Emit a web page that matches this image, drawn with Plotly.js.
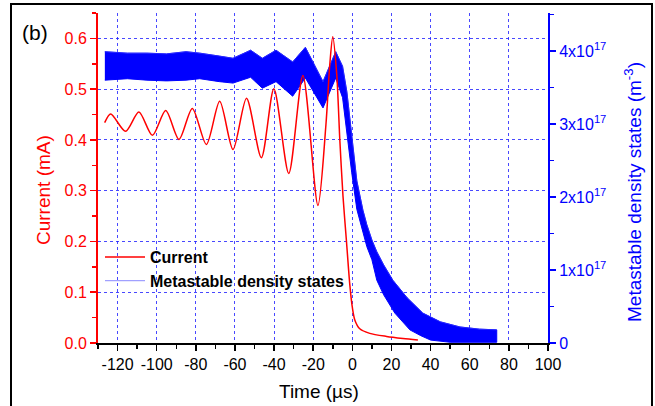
<!DOCTYPE html>
<html>
<head>
<meta charset="utf-8">
<script src="https://cdn.plot.ly/plotly-3.0.1.min.js"></script>
<style>html,body{margin:0;padding:0;background:#fff;}#chart{width:655px;height:406px;}</style>
</head>
<body>
<div id="chart"></div>
<script>
// Current (mA) vs time (µs)
const timeCurrent = [-126.6, -123.5, -115.9, -109.1, -102.2, -95.4, -88.6, -81.8, -74.6, -67.8, -61.0, -54.1, -46.5, -40.1, -32.5, -25.3, -17.6, -13.5, -11.5, -10.0, -8.0, -6.4, -4.8, -3.0, -1.3, 0.0, 1.3, 3.8, 8.9, 17.5, 25.9, 33.5];
const currentMA   = [0.434, 0.451, 0.417, 0.455, 0.409, 0.458, 0.401, 0.462, 0.391, 0.476, 0.381, 0.482, 0.365, 0.501, 0.334, 0.527, 0.271, 0.43, 0.55, 0.603, 0.53, 0.40, 0.29, 0.20, 0.115, 0.07, 0.045, 0.028, 0.019, 0.013, 0.009, 0.006];

// Metastable density states (units of 1e17 m^-3): upper and lower edges of the noisy trace
const timeMetaUpper = [-126.5, -115, -105, -95, -85, -78, -68, -61, -52, -46, -39, -30.5, -24, -15, -8.5, -5, -2.8, -0.3, 2.3, 5.4, 7.4, 10, 12.5, 16, 20.7, 28, 36, 45, 55, 65, 73.8];
const metaUpper     = [3.99, 3.97, 3.97, 3.96, 3.99, 3.97, 3.93, 3.90, 4.01, 3.90, 4.01, 3.85, 4.05, 3.58, 3.99, 3.79, 3.44, 2.85, 2.22, 1.82, 1.62, 1.41, 1.25, 1.07, 0.86, 0.62, 0.41, 0.29, 0.22, 0.19, 0.18];
const timeMetaLower = [-126.5, -115, -105, -95, -85, -78, -68, -61, -52, -46, -39, -30.5, -24, -15, -8.5, -5, -2.8, -0.3, 2.3, 5.4, 7.4, 10, 12.5, 16, 21.7, 29.4, 35, 40, 50, 73.8];
const metaLower     = [3.60, 3.62, 3.60, 3.59, 3.60, 3.62, 3.58, 3.56, 3.64, 3.49, 3.58, 3.38, 3.63, 3.22, 3.63, 3.36, 2.92, 2.33, 1.83, 1.52, 1.32, 1.14, 0.86, 0.66, 0.41, 0.18, 0.10, 0.04, 0.01, 0.01];

// Tick labels
const timeTickVals = [-120, -100, -80, -60, -40, -20, 0, 20, 40, 60, 80, 100];
const timeTickText = ['-120', '-100', '-80', '-60', '-40', '-20', '0', '20', '40', '60', '80', '100'];
const currentTicks = [0, 0.1, 0.2, 0.3, 0.4, 0.5, 0.6];
const metaTickVals = [0, 1, 2, 3, 4];
const metaTickText = ['0', '1x10<sup>17</sup>', '2x10<sup>17</sup>', '3x10<sup>17</sup>', '4x10<sup>17</sup>'];

const RED = '#ff0000', BLUE = '#0000ff';
const FONT = 'Liberation Sans, Arial, sans-serif';

// band polygon: upper edge forward, lower edge backward
const bandX = timeMetaUpper.concat(timeMetaLower.slice().reverse());
const bandY = metaUpper.concat(metaLower.slice().reverse());

const traces = [
  {x: bandX, y: bandY, xaxis: 'x', yaxis: 'y', mode: 'lines', showlegend: false,
   line: {color: BLUE, width: 1}, fill: 'toself', fillcolor: BLUE},
  {x: timeMetaUpper, y: metaUpper, xaxis: 'x', yaxis: 'y', mode: 'lines', name: 'Metastable density states',
   line: {color: 'rgba(60,60,255,0.6)', width: 1}, legendrank: 2},
  {x: timeCurrent, y: currentMA, xaxis: 'x', yaxis: 'y2', mode: 'lines', name: 'Current',
   line: {color: RED, width: 1.5, shape: 'spline', smoothing: 0.8}, legendrank: 1}
];

const px = (p) => (p - 98) / 450;
const py = (p) => (343 - p) / 330;

const layout = {
  width: 655, height: 406,
  margin: {l: 98, r: 107, t: 13, b: 63},
  paper_bgcolor: '#fff', plot_bgcolor: '#fff',
  font: {family: FONT, size: 16, color: '#000'},
  showlegend: true,
  legend: {x: px(100), y: py(240), xanchor: 'left', yanchor: 'top', bgcolor: 'rgba(0,0,0,0)',
           font: {family: FONT, size: 16, color: '#000', weight: 'bold'}, traceorder: 'normal', itemwidth: 40,
           tracegroupgap: 0},
  xaxis: {range: [-130, 100], tickmode: 'array', tickvals: timeTickVals, ticktext: timeTickText, ticks: 'outside', ticklen: 6, tickwidth: 1.5,
          tickcolor: '#000', showline: true, linecolor: '#000', linewidth: 2, zeroline: false,
          showgrid: true, gridcolor: 'rgba(40,40,255,0.85)', griddash: 'dot', gridwidth: 1,
          minor: {tickmode: 'linear', tick0: -130, dtick: 10, ticks: 'outside', ticklen: 4, tickwidth: 1.5, tickcolor: '#000', showgrid: false},
          tickfont: {family: FONT, size: 16, color: '#000'}, anchor: 'y'},
  xaxis2: {range: [-130, 100], overlaying: 'x', side: 'top', anchor: 'y', tickmode: 'linear', tick0: -120, dtick: 20,
           ticks: 'inside', ticklen: 5, tickwidth: 1.5, tickcolor: '#000', showticklabels: false,
           showline: true, linecolor: '#000', linewidth: 2, showgrid: false, zeroline: false,
           minor: {tickmode: 'linear', tick0: -130, dtick: 10, ticks: 'inside', ticklen: 5, tickwidth: 1.5, tickcolor: '#000', showgrid: false}},
  yaxis: {range: [0, 4.52], side: 'right', anchor: 'x', tickmode: 'array', tickvals: metaTickVals, ticktext: metaTickText,
          ticks: 'outside', ticklen: 6, tickwidth: 1.5, tickcolor: BLUE, showline: true, linecolor: BLUE, linewidth: 2,
          showgrid: false, zeroline: false, tickfont: {family: FONT, size: 16, color: BLUE},
          minor: {tickmode: 'linear', tick0: 0.5, dtick: 1, ticks: 'outside', ticklen: 4, tickwidth: 1.5, tickcolor: BLUE, showgrid: false}},
  yaxis2: {range: [0, 0.65], overlaying: 'y', side: 'left', anchor: 'x', tickmode: 'array', tickvals: currentTicks, tickformat: '.1f',
           ticks: 'outside', ticklen: 6, tickwidth: 1.5, tickcolor: RED, showline: true, linecolor: RED, linewidth: 2,
           showgrid: true, gridcolor: 'rgba(40,40,255,0.85)', griddash: 'dot', gridwidth: 1, zeroline: false,
           tickfont: {family: FONT, size: 16, color: RED},
           minor: {tickmode: 'linear', tick0: 0.05, dtick: 0.1, ticks: 'outside', ticklen: 4, tickwidth: 1.5, tickcolor: RED, showgrid: false}},
  annotations: [
    {text: 'Current (mA)', xref: 'paper', yref: 'paper', x: px(43), y: py(190), textangle: -90, showarrow: false,
     font: {family: FONT, size: 19, color: RED}, xanchor: 'center', yanchor: 'middle'},
    {text: 'Metastable density states (m<sup>-3</sup>)', xref: 'paper', yref: 'paper', x: px(633), y: py(192), textangle: -90, showarrow: false,
     font: {family: FONT, size: 19, color: BLUE}, xanchor: 'center', yanchor: 'middle'},
    {text: 'Time (µs)', xref: 'paper', yref: 'paper', x: px(319), y: py(391), showarrow: false,
     font: {family: FONT, size: 19, color: '#000'}, xanchor: 'center', yanchor: 'middle'},
    {text: '(b)', xref: 'paper', yref: 'paper', x: px(35), y: py(32), showarrow: false,
     font: {family: FONT, size: 21, color: '#000'}, xanchor: 'center', yanchor: 'middle'}
  ],
  shapes: [
    {type: 'rect', xref: 'paper', yref: 'paper', x0: px(11), x1: px(652), y0: py(420), y1: py(4),
     line: {color: '#000', width: 2}, fillcolor: 'rgba(0,0,0,0)', layer: 'below'}
  ]
};

Plotly.newPlot('chart', traces, layout, {staticPlot: true, displayModeBar: false});
</script>
</body>
</html>
